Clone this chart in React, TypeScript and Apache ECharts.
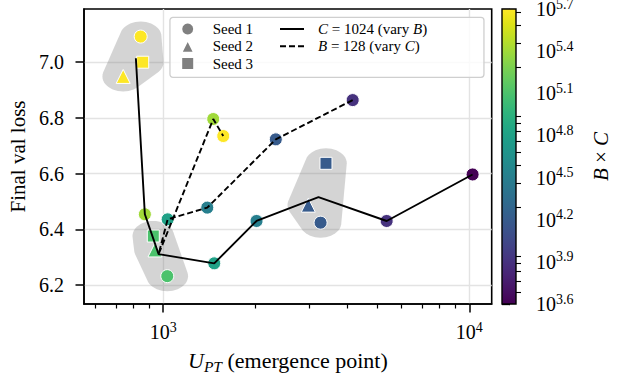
import React, { useEffect, useRef } from "react";
import * as echarts from "echarts";

const SERIF = "Liberation Serif";

// ---- C = 1024, batch size B varied ----
const bValues = [512, 256, 128, 64, 32, 16, 8, 4];
const bSeed1U = [844, 871, 1031, 1468, 2018, 3267, 5372, 10254];
const bSeed1Loss = [7.092, 6.454, 6.232, 6.278, 6.43, 6.424, 6.43, 6.597];
// seeds 2 and 3 were only run for three batch sizes
const bExtraSeedB = [512, 128, 16];
const bSeed2U = [740, 940, 2979];
const bSeed2Loss = [6.949, 6.326, 6.487];
const bSeed3U = [857, 928, 3403];
const bSeed3Loss = [7.0, 6.376, 6.637];
// seed-averaged curve
const bMeanU = [814, 871, 966, 1468, 2018, 3216, 5372, 10254];
const bMeanLoss = [7.014, 6.454, 6.311, 6.278, 6.43, 6.516, 6.43, 6.597];

// ---- B = 128, context C varied ----
const cValues = [64, 128, 256, 512, 2048, 4096];
const cSeed1U = [4160, 2333, 1393, 1034, 1457, 1571];
const cSeed1Loss = [6.864, 6.723, 6.478, 6.436, 6.796, 6.735];
const cCurveU = [4160, 2333, 1393, 1034, 966, 1457, 1571];
const cCurveLoss = [6.864, 6.723, 6.478, 6.436, 6.311, 6.796, 6.735];

const FIXED_C = 1024;
const FIXED_B = 128;

// ---- axes ----
const xRange = [551, 11840];
const yRange = [6.132, 7.191];
const xMajorTicks = [1000, 10000];
const xMinorTicks = [600, 700, 800, 900, 2000, 3000, 4000, 5000, 6000, 7000, 8000, 9000];
const yTicks = [6.2, 6.4, 6.6, 6.8, 7.0];
// colour bar runs over log2(B×C)
const cbarExponents = [12, 13, 14, 15, 16, 17, 18, 19];
const cbarMinorTicks = [
  5000, 6000, 7000, 8000, 9000,
  20000, 30000, 40000, 50000, 60000, 70000, 80000, 90000,
  200000, 300000, 400000, 500000,
];

const VIRIDIS = [
  "#440154", "#471365", "#482475", "#463480", "#414487", "#3b528b", "#355f8d",
  "#2f6c8e", "#2a788e", "#25848e", "#21918c", "#1e9c89", "#22a884", "#2fb47c",
  "#44bf70", "#5ec962", "#7ad151", "#9bd93c", "#bddf26", "#dfe318", "#fde725",
];

function hexToRgb(h: string) {
  return [1, 3, 5].map((i) => parseInt(h.slice(i, i + 2), 16));
}

function viridis(t: number) {
  const c = Math.max(0, Math.min(1, t)) * (VIRIDIS.length - 1);
  const i = Math.min(Math.floor(c), VIRIDIS.length - 2);
  const f = c - i;
  const a = hexToRgb(VIRIDIS[i]);
  const b = hexToRgb(VIRIDIS[i + 1]);
  const m = a.map((v, k) => Math.round(v + (b[k] - v) * f));
  return `rgb(${m[0]},${m[1]},${m[2]})`;
}

const cbMin = cbarExponents[0];
const cbMax = cbarExponents[cbarExponents.length - 1];
const colorOf = (bc: number) => viridis((Math.log2(bc) - cbMin) / (cbMax - cbMin));

const lg = (u: number) => Math.log10(u);

const seed1Data = [
  ...bValues.map((b, i) => ({
    value: [lg(bSeed1U[i]), bSeed1Loss[i]],
    itemStyle: { color: colorOf(b * FIXED_C) },
  })),
  ...cValues.map((c, i) => ({
    value: [lg(cSeed1U[i]), cSeed1Loss[i]],
    itemStyle: { color: colorOf(FIXED_B * c) },
  })),
];
const seed2Data = bExtraSeedB.map((b, k) => ({
  value: [lg(bSeed2U[k]), bSeed2Loss[k]],
  itemStyle: { color: colorOf(b * FIXED_C) },
}));
const seed3Data = bExtraSeedB.map((b, k) => ({
  value: [lg(bSeed3U[k]), bSeed3Loss[k]],
  itemStyle: { color: colorOf(b * FIXED_C) },
}));

// groups of seeds that get a shaded envelope
const hullGroups = bExtraSeedB.map((b, k) => {
  const i = bValues.indexOf(b);
  return [
    [bSeed1U[i], bSeed1Loss[i]],
    [bSeed2U[k], bSeed2Loss[k]],
    [bSeed3U[k], bSeed3Loss[k]],
  ];
});

function convexHull(pts: number[][]) {
  const p = pts.slice().sort((a, b) => a[0] - b[0] || a[1] - b[1]);
  const cross = (o: number[], a: number[], b: number[]) =>
    (a[0] - o[0]) * (b[1] - o[1]) - (a[1] - o[1]) * (b[0] - o[0]);
  const lower: number[][] = [];
  for (const q of p) {
    while (lower.length >= 2 && cross(lower[lower.length - 2], lower[lower.length - 1], q) <= 0) lower.pop();
    lower.push(q);
  }
  const upper: number[][] = [];
  for (let j = p.length - 1; j >= 0; j--) {
    const q = p[j];
    while (upper.length >= 2 && cross(upper[upper.length - 2], upper[upper.length - 1], q) <= 0) upper.pop();
    upper.push(q);
  }
  upper.pop();
  lower.pop();
  return lower.concat(upper);
}

const nameC = `C = ${FIXED_C} (vary B)`;
const nameB = `B = ${FIXED_B} (vary C)`;

const supRich = {
  b: { fontFamily: SERIF, fontSize: 20, lineHeight: 24, color: "#000" },
  s: { fontFamily: SERIF, fontSize: 14, lineHeight: 14, verticalAlign: "top", color: "#000" },
};

const axisBlack = { color: "#000", width: 1.5 };
const gridLine = { show: true, lineStyle: { color: "#e3e3e3", width: 1.4 } };
const hiddenMarker = { color: "rgba(0,0,0,0)", borderColor: "rgba(0,0,0,0)", borderWidth: 0 };

function buildOption(): any {
  return {
    animation: false,
    backgroundColor: "#fff",
    textStyle: { fontFamily: SERIF },
    grid: [
      {
        left: 84, top: 9, width: 407.7, height: 295,
        show: true, borderColor: "#000", borderWidth: 1.6,
        backgroundColor: "transparent", containLabel: false, outerBoundsMode: "none",
      },
      {
        left: 502, top: 9, width: 14, height: 295,
        containLabel: false, outerBoundsMode: "none",
      },
    ],
    xAxis: [
      {
        type: "value", gridIndex: 0, position: "bottom",
        min: lg(xRange[0]), max: lg(xRange[1]),
        axisLine: { show: true, lineStyle: axisBlack },
        axisTick: { show: true, length: 8.5, lineStyle: axisBlack, customValues: xMajorTicks.map(lg) },
        axisLabel: {
          customValues: xMajorTicks.map(lg),
          margin: 16,
          fontFamily: SERIF,
          formatter: (v: number) => `{b|10}{s|${Math.round(v)}}`,
          rich: supRich,
        },
        splitLine: gridLine,
        name: "{i|U}{sub|PT} (emergence point)",
        nameLocation: "middle",
        nameGap: 29,
        nameTextStyle: {
          fontFamily: SERIF, fontSize: 22, lineHeight: 28, color: "#000",
          rich: {
            i: { fontFamily: SERIF, fontStyle: "italic", fontSize: 22, lineHeight: 28, color: "#000" },
            sub: { fontFamily: SERIF, fontStyle: "italic", fontSize: 15.5, lineHeight: 16, verticalAlign: "bottom", color: "#000" },
          },
        },
      },
      {
        // minor ticks of the log axis
        type: "value", gridIndex: 0, position: "bottom",
        min: lg(xRange[0]), max: lg(xRange[1]),
        axisLine: { show: false },
        axisTick: { show: true, length: 4.5, lineStyle: { color: "#000", width: 1.2 }, customValues: xMinorTicks.map(lg) },
        axisLabel: { show: false },
        splitLine: { show: false },
      },
      {
        type: "value", gridIndex: 1, min: 0, max: 1, show: false,
      },
    ],
    yAxis: [
      {
        type: "value", gridIndex: 0, position: "left",
        min: yRange[0], max: yRange[1],
        axisLine: { show: true, lineStyle: axisBlack },
        axisTick: { show: true, length: 8.5, lineStyle: axisBlack, customValues: yTicks },
        axisLabel: {
          customValues: yTicks,
          margin: 20,
          formatter: (v: number) => v.toFixed(1),
          fontFamily: SERIF, fontSize: 20, color: "#000",
        },
        splitLine: gridLine,
        name: "Final val loss",
        nameLocation: "middle",
        nameGap: 54,
        nameTextStyle: { fontFamily: SERIF, fontSize: 21, color: "#000" },
      },
      {
        // colour bar scale, log2(B×C)
        type: "value", gridIndex: 1, position: "right",
        min: cbMin, max: cbMax, interval: 1,
        axisLine: { show: false },
        axisTick: { show: true, length: 8, lineStyle: { color: "#000", width: 1.3 } },
        axisLabel: {
          margin: 20,
          fontFamily: SERIF,
          formatter: (v: number) => `{b|10}{s|${(v * Math.log10(2)).toFixed(1)}}`,
          rich: supRich,
        },
        splitLine: { show: false },
        name: "{i|B} × {i|C}",
        nameLocation: "middle",
        nameRotate: 90,
        nameGap: 74,
        nameTextStyle: {
          fontFamily: SERIF, fontSize: 21, color: "#000",
          rich: { i: { fontFamily: SERIF, fontStyle: "italic", fontSize: 21, color: "#000" } },
        },
      },
      {
        // colour bar minor ticks
        type: "value", gridIndex: 1, position: "right",
        min: cbMin, max: cbMax,
        axisLine: { show: false },
        axisTick: { show: true, length: 5, lineStyle: { color: "#000", width: 1.1 }, customValues: cbarMinorTicks.map((v) => Math.log2(v)) },
        axisLabel: { show: false },
        splitLine: { show: false },
      },
    ],
    legend: [
      {
        data: ["Seed 1", "Seed 2", "Seed 3"],
        orient: "vertical",
        left: 180.2, top: 21, padding: 0,
        itemWidth: 13, itemHeight: 13, itemGap: 1.3,
        selectedMode: false,
        z: 6,
        formatter: (n: string) => `{p|${n}}`,
        textStyle: {
          fontFamily: SERIF, fontSize: 15, lineHeight: 16, color: "#000",
          rich: { p: { fontFamily: SERIF, fontSize: 15, color: "#000", padding: [0, 0, 0, 13.5] } },
        },
      },
      {
        data: [
          { name: nameC, itemStyle: hiddenMarker },
          { name: nameB, itemStyle: hiddenMarker },
        ],
        orient: "vertical",
        left: 279, top: 21, padding: 0,
        itemWidth: 24, itemHeight: 13, itemGap: 1.3,
        selectedMode: false,
        z: 6,
        formatter: (n: string) =>
          n === nameC
            ? `{ip|C}{t| = ${FIXED_C} (vary }{i|B}{t|)}`
            : `{ip|B}{t| = ${FIXED_B} (vary }{i|C}{t|)}`,
        textStyle: {
          fontFamily: SERIF, fontSize: 15, lineHeight: 16, color: "#000",
          rich: {
            t: { fontFamily: SERIF, fontSize: 15, color: "#000" },
            i: { fontFamily: SERIF, fontStyle: "italic", fontSize: 15, color: "#000" },
            ip: { fontFamily: SERIF, fontStyle: "italic", fontSize: 15, color: "#000", padding: [0, 0, 0, 9] },
          },
        },
      },
    ],
    graphic: [
      {
        type: "rect", left: 169.3, top: 16.7, z: 5,
        shape: { width: 314, height: 60, r: 3 },
        style: { fill: "rgba(255,255,255,0.8)", stroke: "#cfcfcf", lineWidth: 1.3 },
      },
    ],
    series: [
      {
        type: "custom",
        name: "seed spread",
        xAxisIndex: 0, yAxisIndex: 0, z: 1, silent: true,
        data: hullGroups.map((g) => [lg(g[0][0]), g[0][1]]),
        renderItem: (params: any, api: any) => {
          const cs = params.coordSys;
          const rx = 0.051 * cs.width;
          const ry = 0.051 * cs.height;
          const pts: number[][] = [];
          for (const [u, l] of hullGroups[params.dataIndex]) {
            const [px, py] = api.coord([lg(u), l]);
            for (let k = 0; k < 48; k++) {
              const a = (k / 48) * Math.PI * 2;
              pts.push([px + rx * Math.cos(a), py + ry * Math.sin(a)]);
            }
          }
          return {
            type: "polygon",
            shape: { points: convexHull(pts) },
            style: { fill: "rgba(128,128,128,0.34)" },
          };
        },
      },
      {
        type: "scatter", name: "Seed 1", xAxisIndex: 0, yAxisIndex: 0, z: 2,
        symbol: "circle", symbolSize: 13,
        itemStyle: { color: "#808080", borderColor: "#fff", borderWidth: 1, opacity: 1 },
        data: seed1Data,
      },
      {
        type: "scatter", name: "Seed 2", xAxisIndex: 0, yAxisIndex: 0, z: 2,
        symbol: "triangle", symbolSize: 14,
        itemStyle: { color: "#808080", borderColor: "#fff", borderWidth: 1, opacity: 1 },
        data: seed2Data,
      },
      {
        type: "scatter", name: "Seed 3", xAxisIndex: 0, yAxisIndex: 0, z: 2,
        symbol: "rect", symbolSize: 12,
        itemStyle: { color: "#808080", borderColor: "#fff", borderWidth: 1, opacity: 1 },
        data: seed3Data,
      },
      {
        type: "line", name: nameC, xAxisIndex: 0, yAxisIndex: 0, z: 3,
        symbol: "none", silent: true,
        lineStyle: { color: "#000", width: 1.9 },
        itemStyle: { color: "#000" },
        data: bMeanU.map((u, i) => [lg(u), bMeanLoss[i]]),
      },
      {
        type: "line", name: nameB, xAxisIndex: 0, yAxisIndex: 0, z: 3,
        symbol: "none", silent: true,
        lineStyle: { color: "#000", width: 1.9, type: [6, 3] },
        itemStyle: { color: "#000" },
        data: cCurveU.map((u, i) => [lg(u), cCurveLoss[i]]),
      },
      {
        type: "custom", name: "colour bar",
        xAxisIndex: 2, yAxisIndex: 1, silent: true,
        data: [[0.5, (cbMin + cbMax) / 2]],
        renderItem: (params: any) => {
          const cs = params.coordSys;
          const shape = { x: cs.x, y: cs.y, width: cs.width, height: cs.height };
          return {
            type: "group",
            children: [
              {
                type: "rect", shape,
                style: {
                  fill: new echarts.graphic.LinearGradient(
                    0, 1, 0, 0,
                    VIRIDIS.map((c, i) => ({ offset: i / (VIRIDIS.length - 1), color: c })),
                  ),
                },
              },
              { type: "rect", shape, style: { fill: "none", stroke: "#000", lineWidth: 1.4 } },
            ],
          };
        },
      },
    ],
  };
}

export default function App() {
  const ref = useRef<HTMLDivElement>(null);
  useEffect(() => {
    if (!ref.current) return;
    const chart = echarts.init(ref.current, null, { renderer: "svg" });
    chart.setOption(buildOption());
    return () => chart.dispose();
  }, []);
  return (
    <div
      ref={ref}
      style={{ position: "absolute", left: 0, top: 0, width: 619, height: 377, background: "#fff" }}
    />
  );
}
